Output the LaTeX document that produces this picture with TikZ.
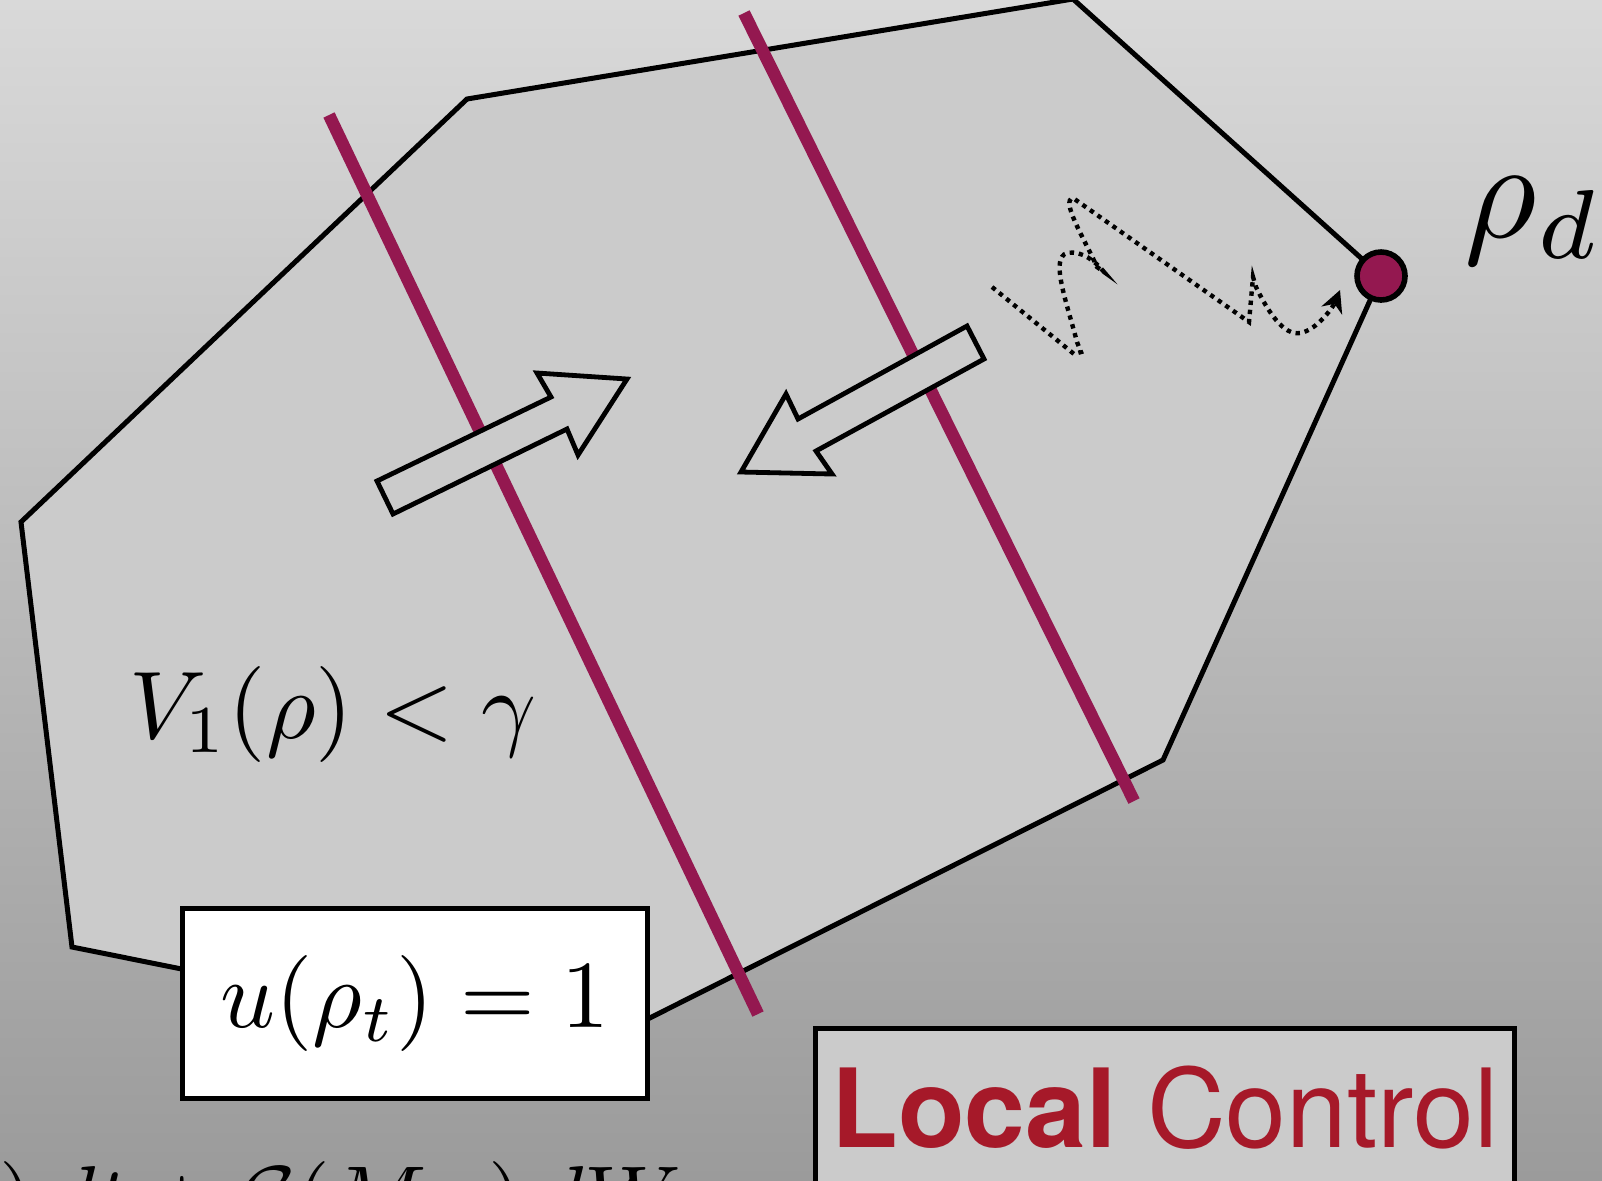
\documentclass[tikz,border=0pt]{standalone}
\usepackage[no-math]{fontspec}
\newfontfamily\heros{TeX Gyre Heros}
\usetikzlibrary{arrows.meta}
\definecolor{bgtop}{RGB}{217,217,217}
\definecolor{bgbot}{RGB}{155,155,155}
\definecolor{polyfill}{RGB}{203,203,203}
\definecolor{sepcol}{RGB}{148,24,80}
\definecolor{ctrlred}{RGB}{166,25,41}
\tikzset{
  region/.style={fill=polyfill, draw=black, line width=1.25pt, line join=miter},
  sepline/.style={draw=sepcol, line width=3.1pt},
  blockarrow/.style={fill=polyfill, draw=black, line width=1.2pt, line join=miter},
  walk/.style={draw=black, line width=1.1pt, dash pattern=on 1.1pt off 1.2pt, -{Stealth[length=5.5pt,width=5.5pt]}},
  mathlabel/.style={inner sep=0pt, scale=2.4},
  targetdot/.style={circle, fill=sepcol, draw=black, line width=1.4pt, minimum size=12pt, inner sep=0pt},
  labelbox/.style={draw=black, line width=1.25pt, inner sep=0pt}
}
\begin{document}
\begin{tikzpicture}[x=0.25pt, y=-0.25pt]
\useasboundingbox (0,0) rectangle (1602,1180);
\shade[top color=bgtop, bottom color=bgbot] (0,0) rectangle (1602,1180);
% region
\coordinate (A) at (467,99);
\coordinate (B) at (1073,-1);
\coordinate (D) at (1381,276);
\coordinate (E) at (1163,760);
\coordinate (F) at (586,1050);
\coordinate (G) at (72,947);
\coordinate (H) at (21,522);
\draw[region] (A) -- (B) -- (D) -- (E) -- (F) -- (G) -- (H) -- cycle;
% separating lines
\coordinate (s1a) at (329,115);
\coordinate (s1b) at (758,1014);
\coordinate (s2a) at (744,13);
\coordinate (s2b) at (1134,801);
\draw[sepline] (s1a) -- (s1b);
\draw[sepline] (s2a) -- (s2b);
% block arrows
\draw[blockarrow] (377,481) -- (551,397) -- (537,373) -- (627,379) -- (578,455) -- (567,429) -- (393,514) -- cycle;
\draw[blockarrow] (967,326) -- (798,419) -- (786,394) -- (741,472) -- (832,474) -- (816,451) -- (984,359) -- cycle;
% random walk
\coordinate (w0) at (992,287);
\coordinate (w1) at (1340,290);
\draw[walk] (w0) -- (1074,354) -- (1081,352) -- (1077,342)
  .. controls (1066,300) and (1050,258) .. (1067,253)
  .. controls (1082,250) and (1096,262) .. (1104,272)
  -- (1097,267)
  .. controls (1085,240) and (1060,200) .. (1073,198)
  -- (1249,322) -- (1253,277) -- (1256,287)
  .. controls (1268,312) and (1284,336) .. (1300,333)
  .. controls (1318,330) and (1334,305) .. (w1);
% target point
\node[targetdot] (rhod) at (D) {};
\node[inner sep=0pt, scale=3.5, anchor=base west] (rhodlabel) at (1462,237) {$\rho_d$};
% labels
\node[mathlabel, anchor=base west] (lyap) at (128,738) {$V_1(\rho) < \gamma$};
\node[labelbox, fill=white, minimum width=116.25pt, minimum height=47.5pt] (ubox) at (415,1003.5) {};
\node[mathlabel] (utext) at (ubox.center) {$u(\rho_t) = 1$};
\node[labelbox, fill=polyfill, minimum width=174.75pt, minimum height=40pt, text=ctrlred, font=\heros\fontsize{27.3}{33}\selectfont] (ctrl) at (1165,1108) {{\bfseries Local} Control};
\node[mathlabel, scale=0.93, anchor=base west] (sde) at (-2,1228) {$)\,dt+\mathcal{G}(M_{\rho_t})\,dW_t$};
\end{tikzpicture}
\end{document}
